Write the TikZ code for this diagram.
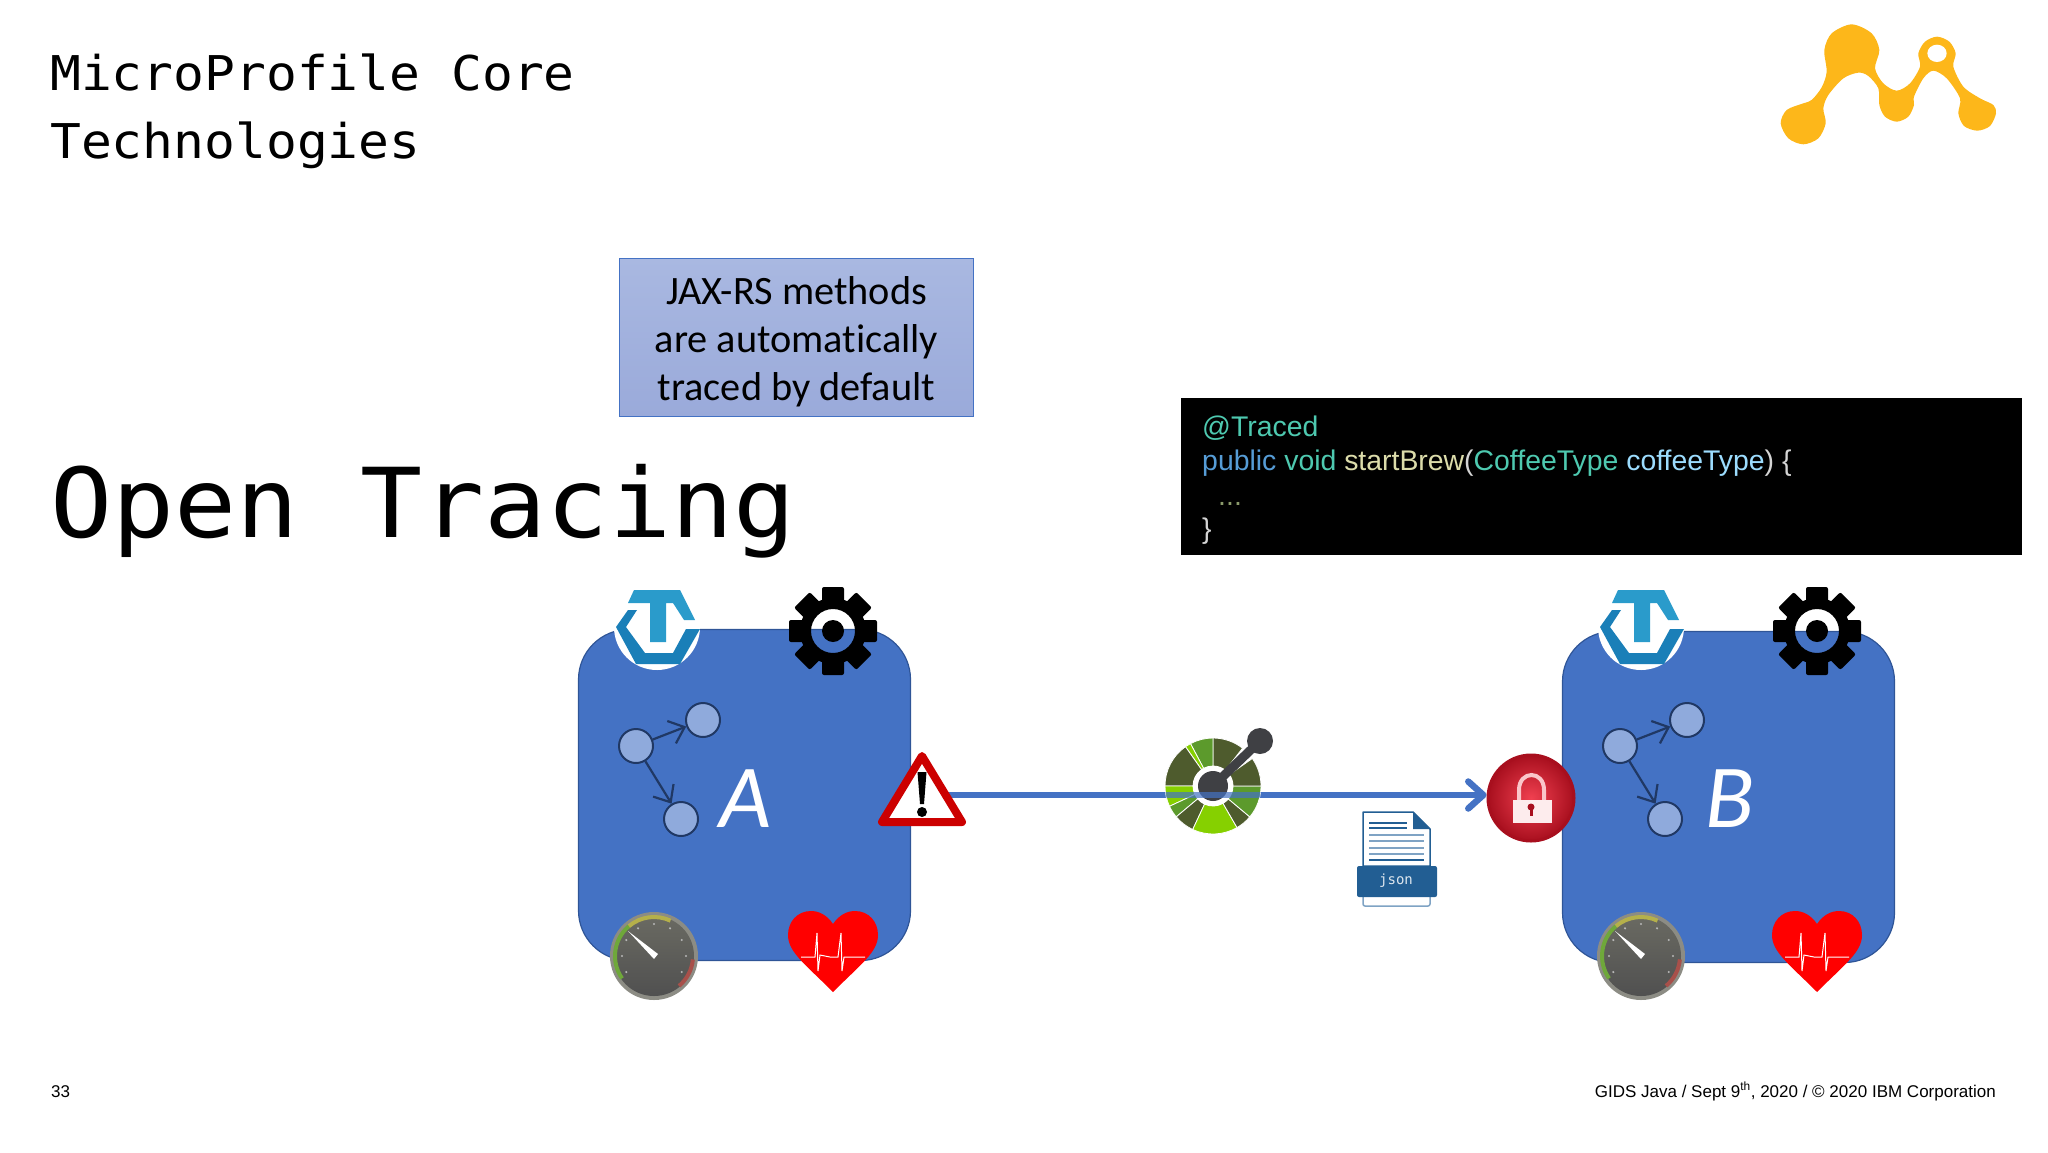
\documentclass[tikz,border=0pt]{standalone}
\usepackage{fontspec}
\usepackage{tikz}
\usetikzlibrary{arrows.meta}

\setmainfont{Liberation Sans}
\newfontfamily\slidefont[FakeStretch=1.07]{DejaVu Sans Mono}
\newfontfamily\notefont[Ligatures=NoCommon]{Carlito}
\newfontfamily\jsonfont{DejaVu Sans Mono}

\tikzset{
  titletext/.style={anchor=base west, inner sep=0pt, font=\slidefont\fontsize{47.9}{50}\selectfont},
  bigtitle/.style={anchor=base west, inner sep=0pt, font=\slidefont\fontsize{96.4}{100}\selectfont},
  footertext/.style={inner sep=0pt, font=\fontsize{17}{20}\selectfont},
  codeline/.style={anchor=base west, inner sep=0pt, text=codeplain, font=\fontsize{28.4}{34}\selectfont},
  notebox/.style={draw=wireblue, line width=1.2pt, top color=notetop, bottom color=notebottom,
    minimum width=354pt, minimum height=158pt, inner sep=0pt},
  notetext/.style={inner sep=0pt, align=center, font=\notefont\fontsize{40.3}{48}\selectfont},
  servicebox/.style={draw=boxedge, line width=1.2pt, fill=wireblue, rounded corners=50pt,
    minimum width=332pt, minimum height=331pt},
  spannode/.style={circle, draw=spanedge, line width=2pt, fill=spanfill, minimum size=34pt, inner sep=0pt},
  spanflow/.style={draw=spanedge, line width=2.2pt, -{Straight Barb[length=14pt,width=24pt]}},
  letter/.style={anchor=base, inner sep=0pt, text=white, font=\notefont\itshape\fontsize{90}{90}\selectfont},
  wire/.style={draw=wireblue, line width=6.5pt, line cap=round,
    -{Straight Barb[length=15pt,width=27pt,round]}},
  tracelogo/.pic={
    \fill[white] (0,0) circle (43);
    \fill[tracedark] (-20,-17) -- (-31,0) -- (-12,26) -- (16,26) -- (29,2) -- (43,2) -- (23,37)
      -- (-21,37) -- (-41,0) -- (-29,-17) -- cycle;
    \fill[tracelight] (-23,-37) -- (23,-37) -- (38,-7) -- (27,-7) -- (16,-24) -- (9,-24) -- (9,15)
      -- (-7,15) -- (-7,-24) -- (-29,-24) -- cycle;
  },
  gearicon/.pic={
    \foreach \a in {0,45,...,315}
      \fill[black, rotate=\a, rounded corners=2pt] (-11,-44) rectangle (11,-28);
    \fill[black, even odd rule] (0,0) circle (33) (0,0) circle (22);
    \fill[black] (0,0) circle (11);
  },
  gaugeicon/.pic={
    \begin{scope}[y=1pt]
      \fill[gaugerim] (0,0) circle (44);
      \shade[top color=gaugetop, bottom color=gaugeface] (0,0) circle (40);
      \draw[line width=4pt, draw=gaugegreen] (215:39) arc (215:130:39);
      \draw[line width=4pt, draw=gaugeyellow] (130:39) arc (130:65:39);
      \draw[line width=4pt, draw=gaugered] (-5:39) arc (-5:-50:39);
      \foreach \a in {-30,0,...,210}
        \fill[gaugetick] (\a:32) circle (1.2);
      \fill[white] (-26,25) -- (4,2) -- (0,-3) -- cycle;
    \end{scope}
  },
  hearticon/.pic={
    \fill[red] (0,0) .. controls (-6,-9) and (-14,-13) .. (-22,-13)
      .. controls (-36,-13) and (-45,-2) .. (-45,11)
      .. controls (-45,28) and (-28,40) .. (0,68)
      .. controls (28,40) and (45,28) .. (45,11)
      .. controls (45,-2) and (36,-13) .. (22,-13)
      .. controls (14,-13) and (6,-9) .. (0,0) -- cycle;
    \draw[white, line width=1pt] (-32,33) -- (-18,33) -- (-16,9) -- (-15,47) -- (-13,31) -- (-3,33)
      -- (5,33) -- (8,9) -- (9,47) -- (11,33) -- (32,33);
  }
}

\begin{document}
\begin{tikzpicture}[x=1pt, y=-1pt]

\definecolor{wireblue}{HTML}{4472C4}
\definecolor{boxedge}{HTML}{2F5597}
\definecolor{spanedge}{HTML}{203864}
\definecolor{spanfill}{HTML}{8FAADC}
\definecolor{notetop}{HTML}{A9B8E1}
\definecolor{notebottom}{HTML}{9AAADA}
\definecolor{tracedark}{HTML}{1A7FB8}
\definecolor{tracelight}{HTML}{2A9BCB}
\definecolor{gaugerim}{HTML}{8C8C84}
\definecolor{gaugetop}{HTML}{6A6A62}
\definecolor{gaugeface}{HTML}{505050}
\definecolor{gaugegreen}{HTML}{6FA83A}
\definecolor{gaugeyellow}{HTML}{B5B04A}
\definecolor{gaugered}{HTML}{A8504A}
\definecolor{gaugetick}{HTML}{B8B8B8}
\definecolor{logoyellow}{HTML}{FDB71A}
\definecolor{codeplain}{HTML}{D4D4D4}
\definecolor{codekey}{HTML}{569CD6}
\definecolor{codetype}{HTML}{4EC9B0}
\definecolor{codefunc}{HTML}{DCDCAA}
\definecolor{codevar}{HTML}{9CDCFE}
\definecolor{codedots}{HTML}{8A9A6A}
\definecolor{apidark}{HTML}{4E5B2D}
\definecolor{apimid}{HTML}{5C9A2C}
\definecolor{apilime}{HTML}{86D000}
\definecolor{apihub}{HTML}{3F4044}
\definecolor{lockrim}{HTML}{A80F1E}
\definecolor{lockcore}{HTML}{F04050}
\definecolor{jsonblue}{HTML}{225E93}
\definecolor{jsonpale}{HTML}{7FA3C4}

\useasboundingbox (0,0) rectangle (2048,1152);

\node[titletext] (titleone) at (50,90) {MicroProfile Core};
\node[titletext] (titletwo) at (50,158) {Technologies};
\node[bigtitle] (sectiontitle) at (50,537) {Open Tracing};

\begin{scope}[shift={(1760,0)}, scale=1/3]
  \fill[logoyellow] plot[smooth cycle] coordinates {
    (62,370) (80,330) (130,310) (155,300) (185,262) (200,215) (193,150) (215,100) (275,73)
    (335,100) (358,150) (345,205) (370,250) (410,272) (450,250) (480,200) (475,160) (495,125)
    (531,110) (568,125) (587,160) (580,200) (610,260) (660,295) (700,315) (708,340) (690,378)
    (652,392) (612,378) (595,340) (600,295) (560,235) (520,212) (490,235) (462,290) (462,315)
    (445,350) (410,365) (375,350) (358,315) (355,265) (325,228) (295,218) (250,235) (205,285)
    (190,325) (197,370) (175,415) (130,433) (85,415)};
  \fill[white] (531,160) ellipse (29 and 26);
\end{scope}

\node[notebox] (note) at (796.5,337.5) {};
\node[notetext] (notelabel) at (796.5,342) {JAX-RS methods\\are automatically\\traced by default};

\fill[black] (1181,398) rectangle (2022,555);
\node[codeline] (codeone) at (1202,436) {\textcolor{codetype}{@Traced}};
\node[codeline] (codetwo) at (1202,470) {\textcolor{codekey}{public} \textcolor{codetype}{void} \textcolor{codefunc}{startBrew}(\textcolor{codetype}{CoffeeType} \textcolor{codevar}{coffeeType}) \{};
\node[codeline, text=codedots] (codethree) at (1218,505) {...};
\node[codeline] (codefour) at (1202,538) {\}};

\foreach \nm/\dx/\dy/\gx/\lx in {A/0/0/654/746, B/984/2/1641/1729.5} {
  \node[servicebox] (box\nm) at (744.5+\dx,795+\dy) {};
  \pic at (657+\dx,627) {tracelogo};
  \pic at (833+\dx,631) {gearicon};
  \pic at (\gx,956) {gaugeicon};
  \pic at (833+\dx,924) {hearticon};
  \node[spannode] (root\nm) at (636+\dx,746) {};
  \node[spannode] (upper\nm) at (703+\dx,720) {};
  \node[spannode] (lower\nm) at (681+\dx,819) {};
  \draw[spanflow] (root\nm) -- (upper\nm);
  \draw[spanflow] (root\nm) -- (lower\nm);
  \node[letter] (letter\nm) at (\lx,827) {\nm};
}

\node[circle, minimum size=86pt, inner sep=0pt, draw=lockrim, line width=3pt,
  inner color=lockcore, outer color=lockrim] (lockicon) at (1531,798) {};
\draw[white!70!lockcore, line width=4pt] (1519,802) -- (1519,790) .. controls (1519,770) and (1544,770) .. (1544,790) -- (1544,802);
\fill[white!90!lockcore] (1513,800) rectangle (1552,823);
\fill[lockrim] (1531,807) circle (3.5);
\fill[lockrim] (1529.5,807) rectangle (1532.5,816);

\node[minimum width=50pt, minimum height=50pt, inner sep=0pt] (warnicon) at (922,795) {};
\draw[wire] (warnicon.east) -- (warnicon.east -| lockicon.west);
\filldraw[draw=red!80!black, fill=white, line width=8pt, line join=round]
  (922,756) -- (962,822) -- (882,822) -- cycle;
\fill[black] (917.5,772) -- (926.5,772) -- (924,804) -- (920,804) -- cycle;
\fill[black] (922,812) circle (5);

\begin{scope}[shift={(1213,786)}, y=1pt]
  \foreach \from/\to/\col in {90/52/apidark, 118/90/apimid, 125/118/apilime, 180/125/apidark,
    205/180/apilime, 220/205/apimid, 245/220/apidark, 300/245/apilime, 320/300/apidark,
    360/320/apimid, 395/360/apidark}
    \filldraw[fill=\col, draw=white, line width=.8pt] (\from:48) arc (\from:\to:48) -- (\to:20) arc (\to:\from:20) -- cycle;
  \fill[white] (0,0) circle (20);
  \draw[apihub, line width=9pt] (0,0) -- (47,45);
  \fill[apihub] (47,45) circle (13);
  \fill[apihub] (0,0) circle (15);
\end{scope}
\begin{scope}
  \clip (1213,786) circle (48);
  \draw[wire, opacity=.7, -] (warnicon.east) -- (warnicon.east -| lockicon.west);
\end{scope}

\filldraw[draw=jsonblue, fill=white, line width=1.5pt, line join=round]
  (1363,812) -- (1413,812) -- (1430,829) -- (1430,866) -- (1363,866) -- cycle;
\fill[jsonblue] (1413,812) -- (1430,829) -- (1413,829) -- cycle;
\foreach \ly in {823,828}
  \draw[jsonblue, line width=1.3pt] (1369,\ly) -- (1407,\ly);
\foreach \ly in {835,841,848,854}
  \draw[jsonpale, line width=2.8pt] (1369,\ly) -- (1424,\ly);
\draw[jsonblue, line width=1.3pt] (1369,860) -- (1424,860);
\filldraw[draw=jsonpale, fill=white, line width=1.5pt, rounded corners=2pt]
  (1363,893) rectangle (1430,906);
\fill[jsonblue, rounded corners=2pt] (1357,866) rectangle (1437,897);
\node[inner sep=0pt, text=white!85!jsonblue, font=\jsonfont\fontsize{14}{14}\selectfont] (jsonlabel) at (1396,881) {json};

\node[footertext, anchor=base west] (pagenumber) at (51,1097) {33};
\node[footertext, anchor=base east] (footerright) at (1996,1097) {GIDS Java / Sept 9\textsuperscript{th}, 2020 / © 2020 IBM Corporation};

\end{tikzpicture}
\end{document}
